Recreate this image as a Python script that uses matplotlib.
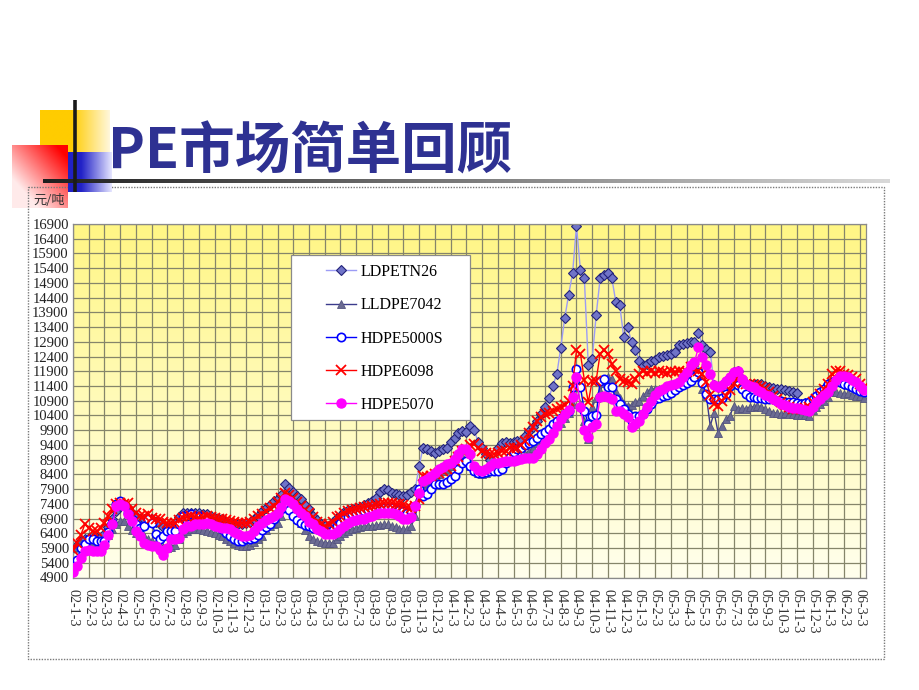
import numpy as np
import matplotlib
matplotlib.use('Agg')
import matplotlib.pyplot as plt
from matplotlib.patches import Rectangle
from matplotlib.font_manager import FontProperties

# ---------------- data (weekly, 4 points per month from 02-1-3) ----------------
tick_labels = [
    "02-1-3", "02-2-3", "02-3-3", "02-4-3", "02-5-3", "02-6-3", "02-7-3", "02-8-3", "02-9-3", "02-10-3", "02-11-3", "02-12-3",
    "03-1-3", "03-2-3", "03-3-3", "03-4-3", "03-5-3", "03-6-3", "03-7-3", "03-8-3", "03-9-3", "03-10-3", "03-11-3", "03-12-3",
    "04-1-3", "04-2-3", "04-3-3", "04-4-3", "04-5-3", "04-6-3", "04-7-3", "04-8-3", "04-9-3", "04-10-3", "04-11-3", "04-12-3",
    "05-1-3", "05-2-3", "05-3-3", "05-4-3", "05-5-3", "05-6-3", "05-7-3", "05-8-3", "05-9-3", "05-10-3", "05-11-3", "05-12-3",
    "06-1-3", "06-2-3", "06-3-3",
]
yticks = list(range(4900, 16901, 500))

series_names = ["LDPETN26", "LLDPE7042", "HDPE5000S", "HDPE6098", "HDPE5070"]

ldpe_tn26 = [
    5900, 6000, 6130, 6200,  6240, 6250, 6230, 6280,  6360, 6600, 6870, 7150,  7320, 7380, 7260, 7100,
    6980, 6900, 6870, 6900,  6870, 6800, 6700, 6620,  6580, 6640, 6750, 6950,  7100, 7100, 7100, 7080,
    7100, 7060, 7050, 7000,  6920, 6900, 6870, 6800,  6750, 6720, 6700, 6730,  6750, 6800, 6870, 7000,
    7150, 7250, 7350, 7480,  7560, 7700, 8060, 7950,  7800, 7680, 7550, 7350,  7210, 7000, 6850, 6700,
    6640, 6650, 6800, 6930,  7000, 7130, 7180, 7230,  7260, 7300, 7350, 7440,  7500, 7600, 7800, 7890,
    7880, 7780, 7750, 7700,  7660, 7700, 7800, 7890,  8690, 9310, 9250, 9200,  9140, 9200, 9250, 9300,
    9500, 9650, 9800, 9880,  9825, 10050, 9900, 9500,  9310, 9100, 8900, 8800,  9300, 9480, 9500, 9480,
    9500, 9520, 9550, 9700,  9880, 10000, 10200, 10450,  10700, 11000, 11415, 11800,  12700, 13700, 14500, 15220,
    16830, 15330, 15050, 12100,  12330, 13800, 15050, 15160,  15220, 15050, 14250, 14140,  13060, 13400, 12890, 12610,
    12265, 12095, 12150, 12265,  12300, 12380, 12420, 12450,  12500, 12550, 12800, 12840,  12870, 12890, 12890, 13210,
    12776, 12650, 12550, 11450,  11355, 11450, 11585, 11700,  11870, 11925, 11640, 11470,  11480, 11470, 11470, 11470,
    11400, 11355, 11330, 11300,  11300, 11260, 11230, 11185,  11150, 10800, 10830, 10870,  10960, 11070, 11185, 11300,
    11470, 11550, 11585, 11550,  11470, 11420, 11355, 11300,  11240, 11185,
]

lldpe_7042 = [
    5900, 5950, 6070, 6100,  6130, 6070, 6010, 6050,  6190, 6350, 6530, 6700,  6810, 6810, 6640, 6520,
    6410, 6350, 6300, 6200,  6130, 6070, 6010, 5950,  5900, 5950, 6010, 6200,  6410, 6470, 6530, 6530,
    6530, 6500, 6470, 6440,  6410, 6350, 6300, 6200,  6130, 6070, 6010, 5980,  5960, 6010, 6100, 6200,
    6300, 6500, 6650, 6700,  6750, 7000, 7350, 7250,  7050, 6900, 6755, 6500,  6300, 6200, 6130, 6100,
    6070, 6070, 6070, 6200,  6300, 6420, 6480, 6530,  6580, 6610, 6640, 6650,  6660, 6670, 6690, 6700,
    6700, 6650, 6600, 6560,  6530, 6530, 6640, 6980,  7660, 8000, 8100, 8200,  8345, 8400, 8500, 8600,
    8690, 8800, 8910, 9030,  8900, 8700, 8550, 8450,  8400, 8450, 8550, 8600,  8700, 8800, 8850, 8880,
    8900, 8950, 9000, 9100,  9200, 9300, 9450, 9600,  9750, 9850, 9950, 10050,  10150, 10300, 10500, 10800,
    11500, 10800, 10200, 9600,  10675, 11000, 11240, 11500,  11700, 11640, 11200, 11000,  10800, 10735, 10750, 10850,
    10900, 11070, 11200, 11300,  11300, 11300, 11300, 11350,  11400, 11450, 11500, 11600,  11700, 11900, 12210, 11700,
    11300, 11070, 10050, 10500,  9820, 10050, 10280, 10390,  10730, 10620, 10650, 10620,  10680, 10700, 10730, 10700,
    10620, 10550, 10500, 10470,  10450, 10480, 10450, 10450,  10420, 10420, 10400, 10390,  10600, 10700, 10790, 10900,
    11015, 11185, 11185, 11150,  11130, 11150, 11100, 11070,  11050, 11000,
]

hdpe_5000s = [
    5300, 5500, 5900, 6050,  6220, 6200, 6150, 6130,  6130, 6450, 6750, 7380,  7490, 7350, 7090, 6900,
    6700, 6580, 6650, 6870,  6750, 6360, 6190, 6300,  6470, 6470, 6470, 6700,  6980, 7000, 7040, 7000,
    6980, 6950, 6920, 6800,  6700, 6620, 6530, 6420,  6300, 6200, 6130, 6150,  6190, 6200, 6250, 6330,
    6500, 6600, 6700, 6900,  7100, 7210, 7300, 7200,  7000, 6850, 6750, 6680,  6640, 6580, 6530, 6500,
    6470, 6420, 6500, 6640,  6750, 6870, 6950, 7050,  7100, 7130, 7150, 7180,  7210, 7210, 7240, 7270,
    7270, 7250, 7210, 7180,  7150, 7100, 7150, 7320,  7890, 7660, 7720, 7900,  8060, 8060, 8060, 8150,
    8230, 8345, 8600, 8800,  8860, 8700, 8520, 8450,  8450, 8480, 8500, 8520,  8520, 8600, 8800, 9000,
    9150, 9250, 9310, 9400,  9480, 9540, 9650, 9780,  9825, 9950, 10100, 10220,  10300, 10450, 10560, 11360,
    11980, 11360, 10560, 10110,  10390, 10400, 11585, 11640,  11360, 11360, 10960, 10800,  10620, 10450, 10220, 10390,
    10390, 10450, 10620, 10790,  10960, 11000, 11070, 11100,  11150, 11250, 11355, 11420,  11500, 11585, 11700, 11870,
    11500, 11130, 10960, 10960,  10960, 11000, 11130, 11415,  11585, 11450, 11300, 11130,  11015, 11015, 11000, 10980,
    10960, 10960, 10950, 10900,  10880, 10860, 10845, 10845,  10820, 10800, 10830, 10870,  10960, 11070, 11185, 11300,
    11470, 11550, 11585, 11550,  11470, 11420, 11355, 11300,  11240, 11185,
]

hdpe_6098 = [
    5840, 6070, 6350, 6700,  6580, 6470, 6470, 6580,  6750, 6980, 7210, 7380,  7440, 7400, 7440, 7210,
    7100, 6980, 6980, 7040,  6920, 6900, 6870, 6800,  6750, 6750, 6760, 6850,  6920, 6950, 6980, 6950,
    6920, 6950, 6980, 6950,  6920, 6900, 6870, 6840,  6810, 6780, 6750, 6750,  6750, 6800, 6870, 6980,
    7040, 7150, 7250, 7320,  7450, 7600, 7780, 7700,  7600, 7450, 7320, 7200,  7090, 6950, 6800, 6700,
    6640, 6700, 6800, 6950,  7000, 7100, 7150, 7180,  7210, 7250, 7280, 7320,  7320, 7350, 7380, 7420,
    7440, 7420, 7400, 7380,  7350, 7300, 7270, 7320,  7550, 8345, 8300, 8360,  8400, 8460, 8520, 8570,
    8700, 8850, 9000, 9195,  9250, 9400, 9425, 9300,  9200, 9140, 9085, 9100,  9140, 9180, 9200, 9300,
    9310, 9300, 9400, 9540,  9800, 9995, 10200, 10335,  10450, 10500, 10560, 10620,  10675, 10750, 10900, 11415,
    12610, 12500, 11600, 10845,  11585, 11585, 12495, 12610,  12500, 12150, 11900, 11650,  11585, 11530, 11470, 11650,
    11810, 11900, 11840, 11900,  11850, 11900, 11870, 11830,  11900, 11870, 11920, 11880,  11890, 12040, 11980, 11900,
    11800, 11550, 11100, 10790,  10730, 10880, 11050, 11250,  11500, 11700, 11550, 11480,  11470, 11430, 11415, 11380,
    11300, 11185, 11070, 10950,  10845, 10750, 10680, 10620,  10620, 10620, 10650, 10680,  10850, 10950, 11130, 11300,
    11470, 11810, 11925, 11900,  11810, 11760, 11700, 11640,  11470, 11360,
]

hdpe_5070 = [
    5100, 5300, 5550, 5800,  5840, 5800, 5790, 5790,  6020, 6350, 6700, 7320,  7380, 7320, 7040, 6810,
    6470, 6300, 6070, 6010,  5980, 5980, 5850, 5670,  5900, 6190, 6220, 6240,  6530, 6640, 6660, 6700,
    6720, 6730, 6750, 6700,  6640, 6600, 6580, 6570,  6550, 6450, 6360, 6320,  6300, 6350, 6470, 6650,
    6755, 6850, 6925, 7000,  7100, 7300, 7550, 7500,  7400, 7210, 7100, 6980,  6800, 6700, 6550, 6470,
    6360, 6360, 6360, 6450,  6530, 6650, 6750, 6810,  6850, 6870, 6900, 6950,  6980, 7050, 7100, 7100,
    7100, 7100, 7050, 6980,  6900, 6870, 6950, 7320,  7780, 8175, 8250, 8345,  8450, 8570, 8650, 8740,
    8800, 8910, 9080, 9250,  9255, 9100, 8690, 8550,  8520, 8600, 8700, 8800,  8800, 8820, 8850, 8860,
    8860, 8880, 8915, 8950,  8970, 8970, 9100, 9255,  9450, 9600, 9800, 10050,  10280, 10450, 10600, 11015,
    11700, 10700, 9900, 9655,  9995, 10110, 11015, 11050,  11015, 10960, 10560, 10560,  10450, 10335, 9995, 10100,
    10220, 10450, 10700, 10900,  11100, 11240, 11300, 11400,  11430, 11470, 11550, 11700,  11870, 12100, 12210, 12720,
    12380, 12100, 11810, 11450,  11355, 11450, 11585, 11700,  11870, 11925, 11640, 11470,  11400, 11355, 11250, 11185,
    11100, 11070, 10950, 10900,  10800, 10740, 10675, 10660,  10640, 10620, 10590, 10560,  10700, 10850, 10960, 11100,
    11185, 11400, 11600, 11750,  11750, 11700, 11600, 11525,  11400, 11250,
]

# ---------------- figure ----------------
W, H = 920, 690
fig = plt.figure(figsize=(W / 100, H / 100), dpi=100)
fig.patch.set_facecolor('white')

bg = fig.add_axes([0, 0, 1, 1], zorder=0)
bg.set_xlim(0, W)
bg.set_ylim(H, 0)
bg.axis('off')


def hgrad(c0, c1, start, n=120, rows=2):
    t = np.linspace(0, 1, n)
    a = np.clip((t - start) / (1 - start), 0, 1)[None, :, None]
    c0 = np.array(c0)[None, None, :]
    c1 = np.array(c1)[None, None, :]
    img = (1 - a) * c0 + a * c1
    return np.repeat(img, rows, axis=0)


# yellow square
bg.imshow(hgrad((1.0, 0.80, 0.0), (1.0, 0.97, 0.86), 0.45), extent=(40, 110, 180, 110),
          aspect='auto', interpolation='bilinear', zorder=1)
# red square (diagonal gradient)
u = np.linspace(0, 1, 80)[None, :]
v = np.linspace(0, 1, 80)[:, None]
s = np.clip(0.75 * u + 0.75 * (1 - v) - 0.35, 0, 1)
red = np.dstack([np.ones_like(s), 0.92 * (1 - s), 0.92 * (1 - s)])
bg.imshow(red, extent=(12, 68, 208, 145), aspect='auto', interpolation='bilinear', zorder=2)
# blue square
bg.imshow(hgrad((0.13, 0.13, 0.78), (0.90, 0.90, 1.0), 0.30), extent=(68, 112, 192, 152),
          aspect='auto', interpolation='bilinear', zorder=3)
# dark lines
bg.plot([75, 75], [100, 192], color='#1a1a1a', lw=2.6, solid_capstyle='butt', zorder=5)
bg.imshow(hgrad((0.12, 0.12, 0.12), (0.85, 0.85, 0.85), 0.0, n=200), extent=(43, 890, 183, 179),
          aspect='auto', interpolation='bilinear', zorder=4)
bg.set_xlim(0, W)
bg.set_ylim(H, 0)

# title
bg.text(108, 169, 'PE市场简单回顾', fontsize=40, fontweight='bold', color='#2E3192',
        family=['Noto Sans CJK SC', 'DejaVu Sans'], va='baseline', ha='left', zorder=6)

# chart frame
bg.add_patch(Rectangle((28, 187), 856, 472, fill=False, edgecolor='#7a7a7a', lw=1.0,
                       linestyle=(0, (1, 1)), zorder=2))
bg.text(33, 201, '元/吨', fontsize=9.5, color='#333333',
        family=['Noto Sans CJK SC', 'DejaVu Sans'], va='center', ha='left')

# ---------------- plot axes ----------------
L, R, T, B = 73, 866, 224, 577.5
ax = fig.add_axes([L / W, 1 - B / H, (R - L) / W, (B - T) / H], zorder=2)
ax.patch.set_visible(False)

x = np.arange(len(ldpe_tn26)) / 4.0
xmax = 50.4

grad = np.linspace(0, 1, 256)[:, None, None]
bottom_c = np.array([1.0, 1.0, 0.93])[None, None, :]
top_c = np.array([1.0, 0.965, 0.52])[None, None, :]
bgimg = (1 - grad) * bottom_c + grad * top_c
ax.imshow(bgimg, extent=(0, xmax, 4900, 16900), origin='lower', aspect='auto',
          interpolation='bilinear', zorder=0)

h1, = ax.plot(x, ldpe_tn26, color='#9c9cf5', lw=1.0, marker='D', ms=5.4,
              mfc='#7074c8', mec='#23237a', mew=0.8, zorder=2)
h2, = ax.plot(x, lldpe_7042, color='#3b3b8c', lw=1.0, marker='^', ms=6.0,
              mfc='#6b6b92', mec='#54547e', mew=0.6, zorder=3)
h3, = ax.plot(x, hdpe_5000s, color='#0000ff', lw=1.0, marker='o', ms=6.0,
              mfc='white', mec='#0000ff', mew=1.2, zorder=4)
h4, = ax.plot(x, hdpe_6098, color='#ff0000', lw=1.0, marker='x', ms=6.5,
              mec='#ff0000', mew=1.3, zorder=5)
h5, = ax.plot(x, hdpe_5070, color='#ff00ff', lw=1.0, marker='o', ms=6.5,
              mfc='#ff00ff', mec='#ff00ff', zorder=6)

ax.set_xlim(0, xmax)
ax.set_ylim(4900, 16900)
ax.set_yticks(yticks)
ax.set_yticklabels([str(t) for t in yticks], family='Liberation Serif', fontsize=10.5, color='#222222')
ax.set_xticks(range(len(tick_labels)))
ax.set_xticklabels(tick_labels, rotation=270, family='Liberation Serif', fontsize=10.2,
                   color='#333333', ha='center', va='top')
ax.tick_params(axis='y', length=0, pad=3)
ax.tick_params(axis='x', length=0, pad=8)
ax.set_axisbelow(True)
ax.grid(True, color='#85856a', lw=0.9)
for sp in ax.spines.values():
    sp.set_color('#8a8a8a')
    sp.set_linewidth(0.9)

# legend box
ax.add_patch(Rectangle(((291 - L) / (R - L), (B - 420) / (B - T)), (470 - 291) / (R - L),
                       (420 - 255) / (B - T), transform=ax.transAxes, facecolor='white',
                       edgecolor='#8a8a8a', lw=0.9, zorder=7))
leg = ax.legend([h1, h2, h3, h4, h5], series_names, loc='upper left',
                bbox_to_anchor=((326 - L) / (R - L), (B - 264) / (B - T)),
                bbox_transform=ax.transAxes, frameon=False, borderaxespad=0, borderpad=0,
                handlelength=1.85, handletextpad=0.3, labelspacing=1.08, numpoints=1,
                prop=FontProperties(family='Liberation Serif', size=11.5))
leg.set_zorder(8)

fig.savefig('out.png', dpi=100, facecolor='white')
